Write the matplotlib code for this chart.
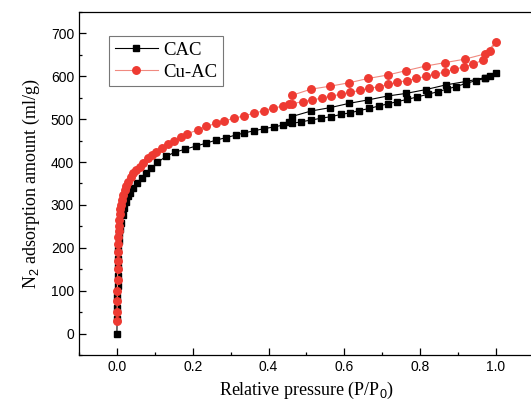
import matplotlib
matplotlib.use("Agg")
import matplotlib.pyplot as plt
from matplotlib.ticker import MultipleLocator

plt.rcParams['mathtext.fontset'] = 'custom'
plt.rcParams['mathtext.rm'] = 'Liberation Sans'

# CAC isotherm (adsorption branch then desorption branch)
cac_ads_x = [0.0, 0.0005, 0.001, 0.0015, 0.002, 0.0025, 0.003, 0.0035, 0.004, 0.005,
             0.006, 0.008, 0.011, 0.015, 0.019, 0.023, 0.028, 0.034, 0.043, 0.052,
             0.065, 0.078, 0.091, 0.107, 0.129, 0.153, 0.180, 0.208, 0.235, 0.261,
             0.288, 0.314, 0.336, 0.362, 0.389, 0.415, 0.437, 0.461, 0.487, 0.512,
             0.538, 0.565, 0.591, 0.616, 0.639, 0.666, 0.692, 0.716, 0.740, 0.765,
             0.793, 0.820, 0.846, 0.870, 0.894, 0.920, 0.947, 0.972, 0.985, 1.0]
cac_ads_y = [0, 35, 60, 85, 110, 135, 155, 175, 195, 215,
             232, 245, 258, 277, 293, 308, 320, 329, 339, 351,
             362, 374, 386, 399, 413, 423, 430, 437, 444, 451,
             457, 463, 468, 473, 478, 482, 486, 490, 494, 498,
             502, 506, 511, 515, 520, 525, 531, 536, 541, 546,
             552, 558, 564, 570, 576, 583, 590, 595, 600, 607]
cac_des_x = [0.972, 0.921, 0.868, 0.815, 0.762, 0.714, 0.663, 0.613, 0.563, 0.512, 0.461, 0.455]
cac_des_y = [597, 588, 580, 569, 560, 554, 545, 537, 527, 519, 506, 494]

# Cu-AC isotherm
cuac_ads_x = [0.0002, 0.0005, 0.0008, 0.0012, 0.0016, 0.002, 0.0025, 0.003, 0.0035, 0.004,
              0.0045, 0.005, 0.006, 0.0075, 0.009, 0.011, 0.013, 0.017, 0.021, 0.025,
              0.029, 0.036, 0.043, 0.051, 0.060, 0.070, 0.082, 0.093, 0.104, 0.118,
              0.134, 0.150, 0.168, 0.186, 0.213, 0.235, 0.261, 0.283, 0.309, 0.336,
              0.362, 0.389, 0.411, 0.437, 0.463, 0.490, 0.516, 0.540, 0.565, 0.591,
              0.616, 0.642, 0.666, 0.692, 0.716, 0.740, 0.765, 0.790, 0.815, 0.840,
              0.865, 0.890, 0.915, 0.940, 0.965, 0.985, 1.0]
cuac_ads_y = [30, 50, 75, 100, 125, 150, 170, 190, 208, 225,
              240, 252, 264, 278, 290, 300, 312, 324, 335, 345,
              354, 364, 374, 381, 389, 398, 409, 417, 424, 432,
              441, 449, 458, 466, 475, 483, 490, 496, 502, 508,
              514, 520, 526, 530, 536, 541, 545, 549, 554, 558,
              563, 567, 572, 576, 581, 586, 590, 595, 600, 605,
              610, 616, 622, 628, 638, 659, 680]
cuac_des_x = [0.970, 0.918, 0.866, 0.815, 0.762, 0.714, 0.663, 0.613, 0.563, 0.512, 0.463, 0.455]
cuac_des_y = [652, 640, 632, 624, 613, 603, 595, 585, 577, 570, 556, 535]

cac_x = cac_ads_x + cac_des_x
cac_y = cac_ads_y + cac_des_y
cuac_x = cuac_ads_x + cuac_des_x
cuac_y = cuac_ads_y + cuac_des_y

fig = plt.figure(figsize=(5.31, 4.04), dpi=100)
ax = fig.add_axes([0.1488, 0.1213, 0.8565, 0.849])

ax.plot(cac_x, cac_y, color='black', lw=0.8, marker='s', ms=4.6,
        mfc='black', mec='black', label='CAC', zorder=2)
ax.plot(cuac_x, cuac_y, color='#f08a80', lw=0.8, marker='o', ms=5.4,
        mfc='#ee3a32', mec='#ee3a32', label='Cu-AC', zorder=3)

ax.set_xlim(-0.1, 1.1)
ax.set_ylim(-50, 750)
ax.xaxis.set_major_locator(MultipleLocator(0.2))
ax.xaxis.set_minor_locator(MultipleLocator(0.1))
ax.yaxis.set_major_locator(MultipleLocator(100))
ax.yaxis.set_minor_locator(MultipleLocator(50))
ax.tick_params(which='both', direction='in', top=False, right=False,
               labelsize=10, width=0.9)
ax.tick_params(which='major', length=5)
ax.tick_params(which='minor', length=2.5)
for lab in ax.get_xticklabels() + ax.get_yticklabels():
    lab.set_fontfamily('Liberation Sans')
for s in ax.spines.values():
    s.set_linewidth(0.9)

ax.set_xlabel('Relative pressure (P/P$_0$)', fontfamily='Liberation Serif',
              fontsize=13, labelpad=4)
ax.set_ylabel('N$_2$ adsorption amount (ml/g)', fontfamily='Liberation Serif',
              fontsize=13, labelpad=6)

leg = ax.legend(loc='upper left', bbox_to_anchor=(0.066, 0.93), borderaxespad=0,
                prop={'family': 'Liberation Serif', 'size': 13.5},
                fancybox=False, handlelength=2.3, handletextpad=0.3,
                borderpad=0.3, labelspacing=0.25)
leg.get_frame().set_edgecolor('#555555')
leg.get_frame().set_linewidth(0.8)

fig.savefig('out.png', dpi=100)
